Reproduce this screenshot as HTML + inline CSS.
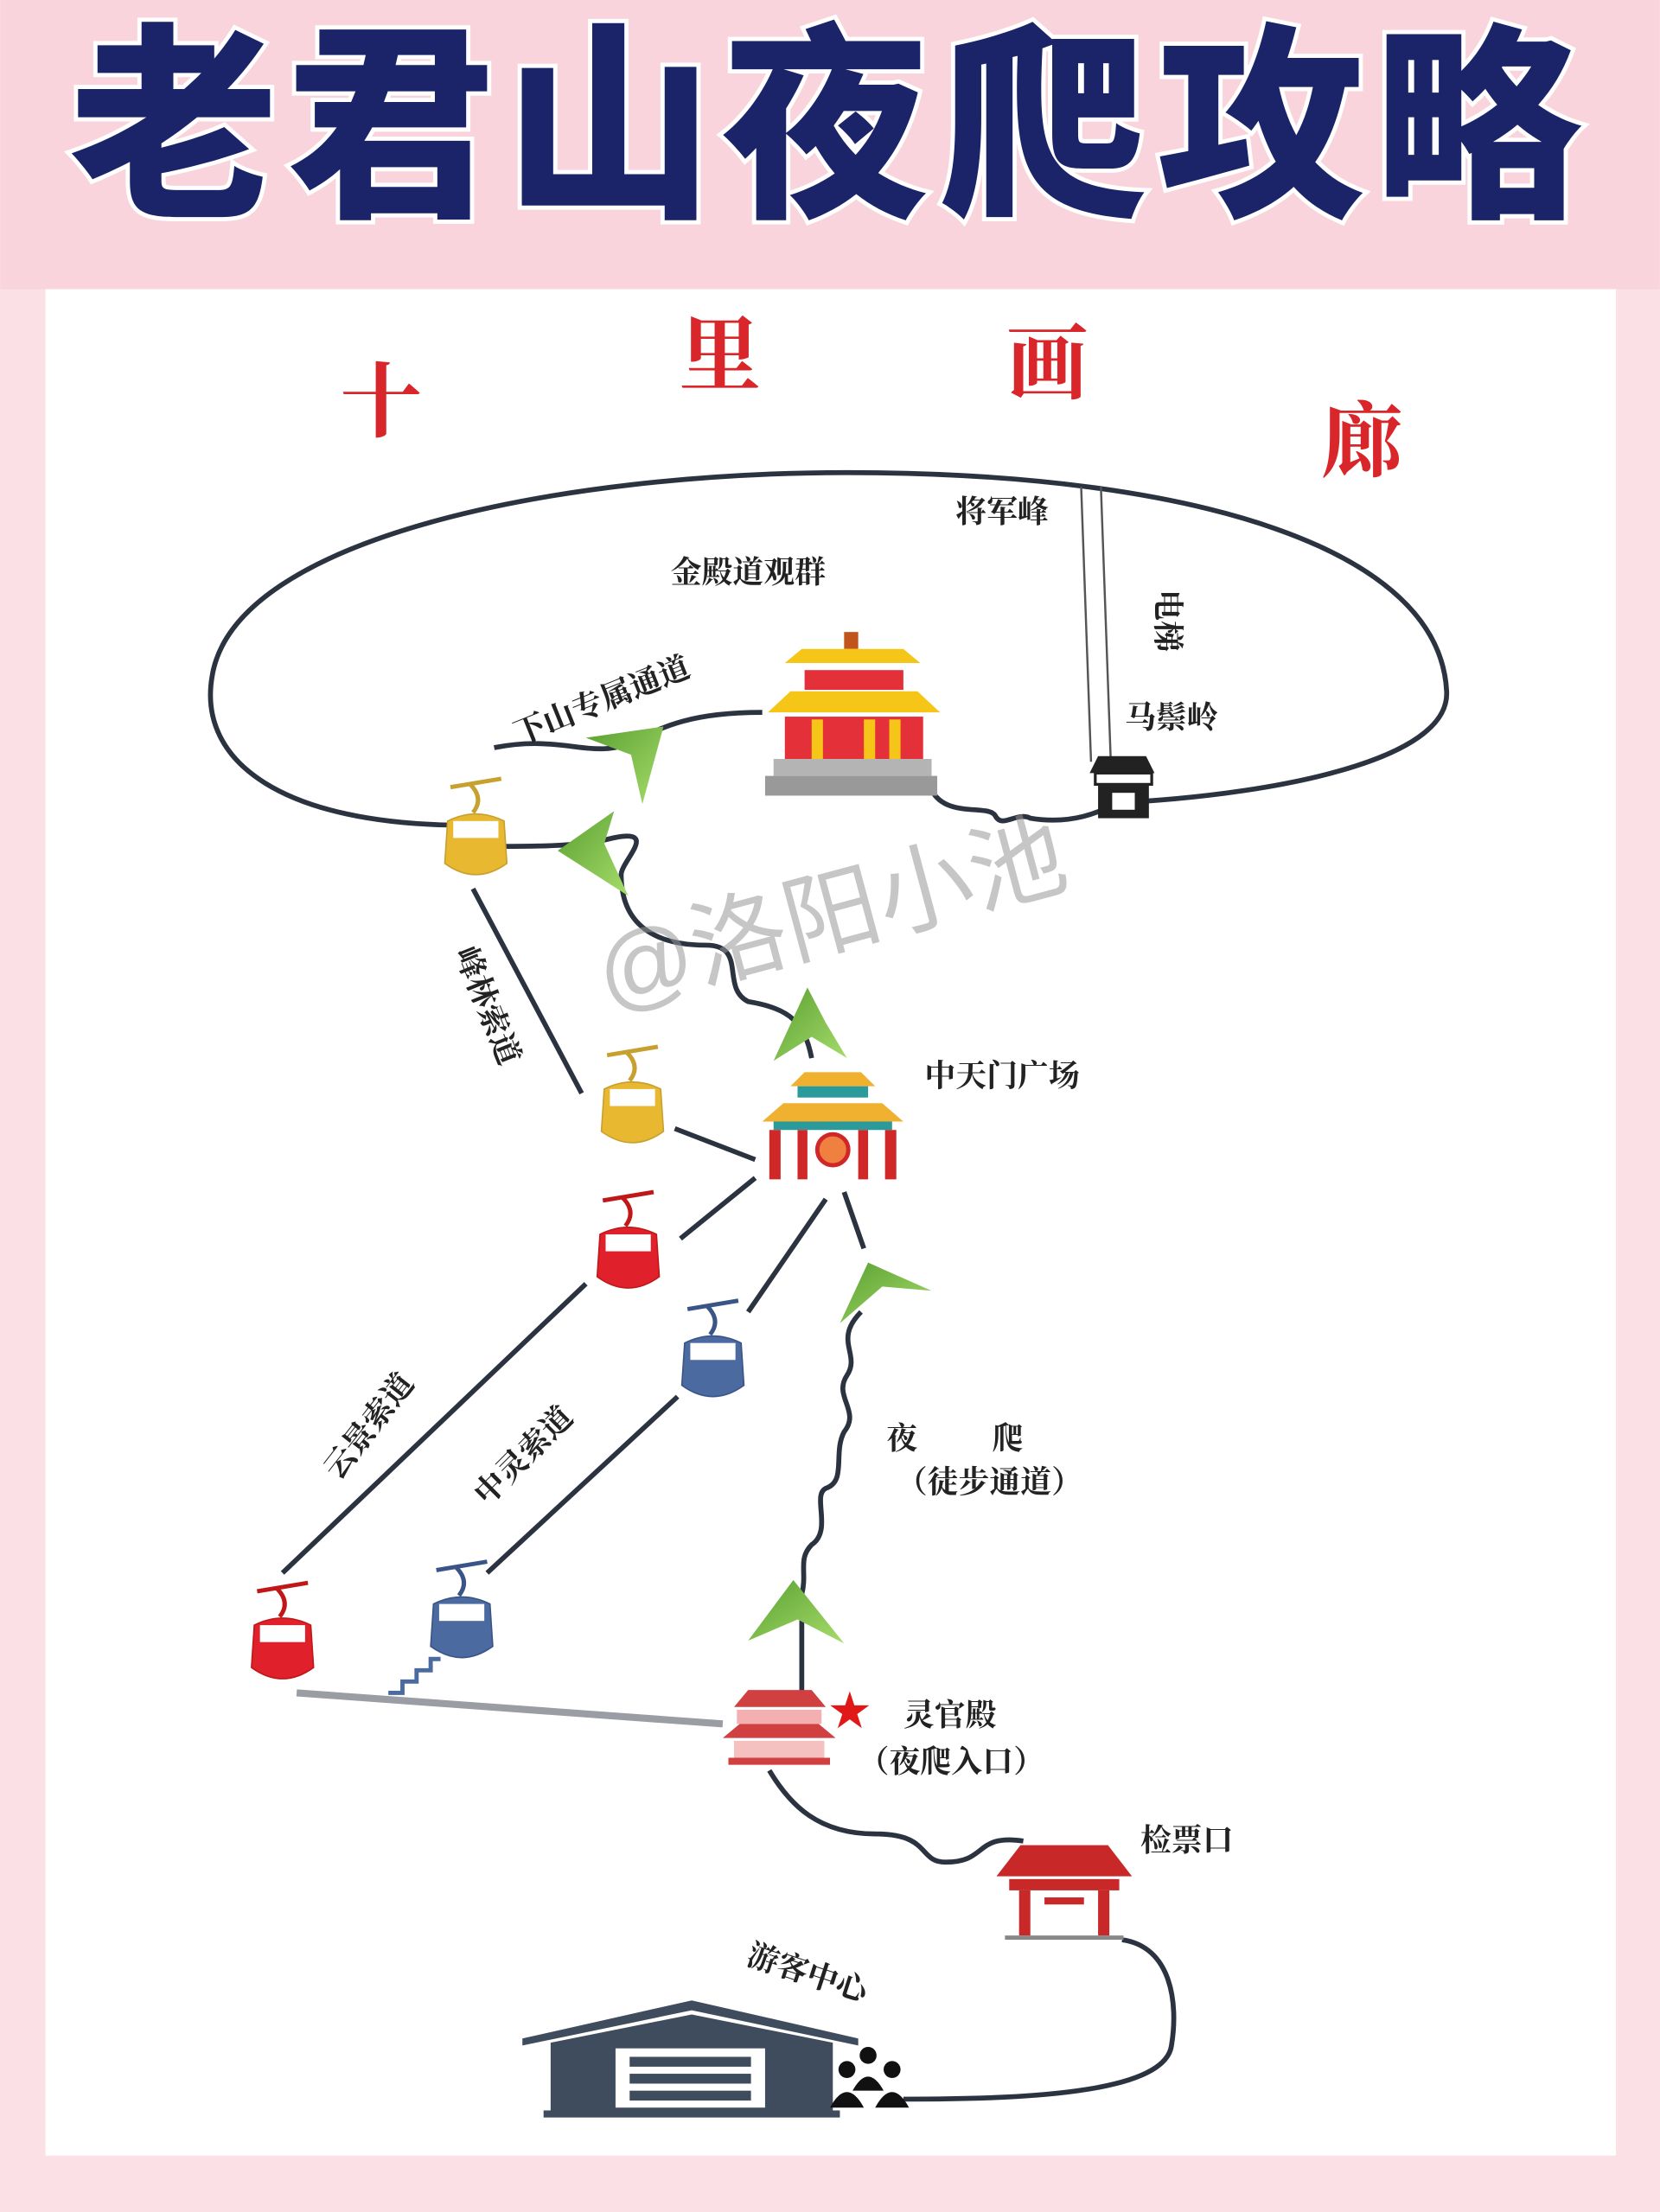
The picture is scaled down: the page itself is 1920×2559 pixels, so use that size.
<!DOCTYPE html>
<html><head><meta charset="utf-8"><style>
html,body{margin:0;padding:0;background:#fbe0e6;}
svg{display:block}
text{font-family:"Liberation Serif","Noto Serif CJK SC","Noto Sans CJK SC",serif;fill:#222;}
</style></head><body>
<svg width="1920" height="2559" viewBox="0 0 1176 1568" xmlns="http://www.w3.org/2000/svg">
<defs>
<linearGradient id="g" x1="0" y1="0" x2="1" y2="1"><stop offset="0" stop-color="#5aa032"/><stop offset="1" stop-color="#a6dc6a"/></linearGradient>
<g id="gondola-base"><line x1="-18" y1="-42" x2="18" y2="-48" stroke-width="3"/><path d="M-4 -44 Q6 -34 -2 -24" fill="none" stroke-width="3"/></g>
</defs>
<rect width="1176" height="1568" fill="#fbe0e6"/>
<rect x="0" y="0" width="1176" height="205" fill="#f9d4dc"/>
<rect x="32" y="205" width="1113" height="1323" fill="#fff"/>
<text x="588" y="142" text-anchor="middle" font-size="148" font-weight="900" style="font-family:'Noto Sans CJK SC',sans-serif;fill:#1b2468;stroke:#fff;stroke-width:6;paint-order:stroke;letter-spacing:6px">老君山夜爬攻略</text>
<g style="font-family:'Noto Serif CJK SC',serif" font-size="58" font-weight="700">
<text x="270" y="305" text-anchor="middle" style="fill:#d8262a">十</text>
<text x="510" y="272" text-anchor="middle" style="fill:#d8262a">里</text>
<text x="742" y="278" text-anchor="middle" style="fill:#d8262a">画</text>
<text x="965" y="333" text-anchor="middle" style="fill:#d8262a">廊</text>
</g>
<g fill="none" stroke="#2b3340" stroke-width="3.5">
<path d="M330 585 C200 585 140 540 150 480 C165 380 400 335 600 335 C850 335 1020 390 1025 490 C1028 540 900 562 810 568"/>
<path d="M540 505 C490 505 470 515 450 525 C420 540 400 520 350 530"/>
<path d="M335 600 C380 600 410 600 430 595 C470 585 440 610 440 620 C440 660 470 670 500 670 C530 670 510 700 530 710 C560 715 570 725 575 750"/>
<path d="M660 560 C670 580 700 570 705 578 C710 588 720 575 730 580 C760 585 780 575 790 570"/>
<line x1="335" y1="630" x2="412" y2="775"/>
<line x1="478" y1="800" x2="535" y2="822"/>
<line x1="482" y1="878" x2="535" y2="835"/>
<line x1="415" y1="910" x2="200" y2="1115"/>
<line x1="585" y1="850" x2="530" y2="930"/>
<line x1="480" y1="990" x2="345" y2="1115"/>
<path d="M598 845 L612 885"/>
<path d="M610 930 C590 950 610 960 600 975 C590 990 610 1000 598 1015 C590 1030 600 1050 585 1055 C575 1060 590 1085 575 1095 C565 1105 572 1115 568 1130 L568 1200"/>
<path d="M545 1255 C560 1280 580 1300 620 1300 C660 1300 650 1320 670 1320 C700 1320 690 1300 725 1305"/>
<path d="M795 1375 C830 1380 835 1420 830 1450 C825 1485 720 1488 640 1488"/>
</g>
<line x1="210" y1="1200" x2="512" y2="1222" stroke="#9a9ea4" stroke-width="5"/>
<line x1="766" y1="345" x2="773" y2="540" stroke="#555" stroke-width="1.5"/>
<line x1="780" y1="345" x2="787" y2="540" stroke="#555" stroke-width="1.5"/>
<path d="M415 523 L470 515 L455 570 L447 535 Z" fill="url(#g)"/>
<path d="M395 603 L435 575 L428 598 L445 635 Z" fill="url(#g)"/>
<path d="M548 752 L572 700 L585 725 L600 750 L575 735 Z" fill="url(#g)"/>
<path d="M595 938 L615 895 L660 915 L625 912 Z" fill="url(#g)"/>
<path d="M530 1163 L562 1120 L598 1165 L565 1148 Z" fill="url(#g)"/>
<g>
<rect x="598" y="448" width="10" height="12" fill="#c0541c"/>
<path d="M556 470 L652 470 L640 460 L568 460 Z" fill="#f5c518"/>
<rect x="570" y="475" width="70" height="14" fill="#e43039"/>
<path d="M544 505 L666 505 L650 490 L560 490 Z" fill="#f5c518"/>
<rect x="556" y="508" width="98" height="30" fill="#e43039"/>
<rect x="575" y="510" width="8" height="28" fill="#f5c518"/><rect x="612" y="510" width="8" height="28" fill="#f5c518"/><rect x="630" y="510" width="8" height="28" fill="#f5c518"/>
<rect x="548" y="538" width="112" height="12" fill="#b4b4b4"/>
<rect x="542" y="550" width="122" height="14" fill="#999"/>
</g>
<g><path d="M772 548 L818 548 L812 536 L778 536 Z" fill="#222"/><rect x="776" y="548" width="40" height="8" fill="#fff" stroke="#222" stroke-width="2"/><rect x="778" y="556" width="36" height="24" fill="#222"/><rect x="788" y="562" width="16" height="12" fill="#fff"/></g>
<g transform="translate(337,600)" stroke="#c8a030" fill="#e8b830"><use href="#gondola-base"/><path d="M-20 -18 Q0 -28 20 -18 L22 12 Q0 28 -22 12 Z"/><rect x="-16" y="-18" width="32" height="12" fill="#fff" stroke="none"/></g>
<g transform="translate(448,790)" stroke="#c8a030" fill="#e8b830"><use href="#gondola-base"/><path d="M-20 -18 Q0 -28 20 -18 L22 12 Q0 28 -22 12 Z"/><rect x="-16" y="-18" width="32" height="12" fill="#fff" stroke="none"/></g>
<g transform="translate(445,893)" stroke="#c01818" fill="#e0202a"><use href="#gondola-base"/><path d="M-20 -18 Q0 -28 20 -18 L22 12 Q0 28 -22 12 Z"/><rect x="-16" y="-18" width="32" height="12" fill="#fff" stroke="none"/></g>
<g transform="translate(505,970)" stroke="#3a5488" fill="#4a6aa0"><use href="#gondola-base"/><path d="M-20 -18 Q0 -28 20 -18 L22 12 Q0 28 -22 12 Z"/><rect x="-16" y="-18" width="32" height="12" fill="#fff" stroke="none"/></g>
<g transform="translate(327,1155)" stroke="#3a5488" fill="#4a6aa0"><use href="#gondola-base"/><path d="M-20 -18 Q0 -28 20 -18 L22 12 Q0 28 -22 12 Z"/><rect x="-16" y="-18" width="32" height="12" fill="#fff" stroke="none"/></g>
<g transform="translate(200,1170)" stroke="#c01818" fill="#e0202a"><use href="#gondola-base"/><path d="M-20 -18 Q0 -28 20 -18 L22 12 Q0 28 -22 12 Z"/><rect x="-16" y="-18" width="32" height="12" fill="#fff" stroke="none"/></g>
<path d="M275 1200 L285 1200 L285 1192 L295 1192 L295 1184 L305 1184 L305 1176 L312 1176" fill="none" stroke="#4a6aa0" stroke-width="3"/>
<g>
<path d="M560 770 L620 770 L610 760 L570 760 Z" fill="#f0b030"/>
<rect x="565" y="770" width="50" height="8" fill="#2a9a9a"/>
<path d="M540 795 L640 795 L625 782 L555 782 Z" fill="#f0b030"/>
<rect x="548" y="795" width="84" height="6" fill="#2a9a9a"/>
<rect x="545" y="801" width="8" height="35" fill="#d02828"/><rect x="627" y="801" width="8" height="35" fill="#d02828"/>
<rect x="565" y="801" width="7" height="35" fill="#d02828"/><rect x="608" y="801" width="7" height="35" fill="#d02828"/>
<circle cx="590" cy="815" r="11" fill="#f08040" stroke="#d02828" stroke-width="3"/>
</g>
<g fill="#d04040">
<path d="M520 1210 L585 1210 L575 1198 L530 1198 Z"/>
<rect x="522" y="1212" width="60" height="10" fill="#f4b0b0"/>
<path d="M512 1232 L592 1232 L580 1222 L524 1222 Z"/>
<rect x="520" y="1234" width="64" height="14" fill="#f4c0c0"/>
<rect x="516" y="1246" width="72" height="5"/>
</g>
<g fill="#c82828">
<path d="M706 1330 L802 1330 L785 1308 L723 1308 Z"/>
<rect x="715" y="1332" width="78" height="8"/>
<rect x="722" y="1340" width="8" height="32"/><rect x="778" y="1340" width="8" height="32"/>
<rect x="740" y="1345" width="28" height="5"/>
<rect x="712" y="1372" width="84" height="3" fill="#888"/>
</g>
<g fill="#3e4c5e">
<path d="M370 1445 L490 1418 L608 1445 L608 1450 L490 1425 L370 1450 Z"/>
<path d="M390 1448 L490 1428 L590 1448 L590 1498 L390 1498 Z"/>
<rect x="436" y="1452" width="106" height="42" fill="#fff"/>
<rect x="446" y="1458" width="86" height="7"/><rect x="446" y="1470" width="86" height="7"/><rect x="446" y="1482" width="86" height="7"/>
<rect x="385" y="1496" width="210" height="5"/>
</g>
<g fill="#111"><circle cx="600" cy="1467" r="6"/><circle cx="615" cy="1457" r="6"/><circle cx="632" cy="1467" r="6"/>
<path d="M588 1494 Q600 1472 612 1494 Z"/><path d="M604 1482 Q615 1462 626 1482 Z"/><path d="M620 1494 Q632 1472 644 1494 Z"/></g>
<g font-size="22" font-weight="700">
<text x="710" y="370" text-anchor="middle">将军峰</text>
<text x="530" y="413" text-anchor="middle">金殿道观群</text>
<text x="830" y="516" text-anchor="middle">马鬃岭</text>
<text x="655" y="770">中天门广场</text>
<text x="628" y="1027">夜</text><text x="703" y="1027">爬</text>
<text x="635" y="1058">（徒步通道）</text>
<text x="640" y="1223">灵官殿</text>
<text x="608" y="1256">（夜爬入口）</text>
<text x="808" y="1312">检票口</text>
<text transform="translate(820,418) rotate(90)">电梯</text>
<text transform="translate(368,528) rotate(-22)">下山专属通道</text>
<text transform="translate(322,675) rotate(68)">峰林索道</text>
<text transform="translate(240,1050) rotate(-52)">云景索道</text>
<text transform="translate(345,1068) rotate(-45)">中灵索道</text>
<text transform="translate(528,1392) rotate(18)">游客中心</text>
</g>
<text x="602" y="1225" font-size="36" text-anchor="middle" style="fill:#e01818;font-family:'DejaVu Sans',sans-serif">★</text>
<text transform="translate(430,715) rotate(-15)" font-size="68" style="fill:#999;opacity:0.55;font-family:'Liberation Sans','Noto Sans CJK SC',sans-serif">@洛阳小池</text>
</svg>
</body></html>
